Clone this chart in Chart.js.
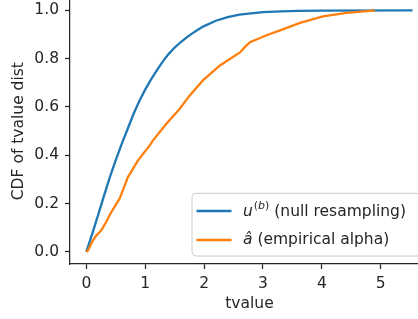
<!DOCTYPE html>
<html>
<head>
<meta charset="utf-8">
<script src="https://cdn.jsdelivr.net/npm/chart.js@4/dist/chart.umd.min.js"></script>
<style>
  html, body { margin: 0; padding: 0; background: #fff; overflow: hidden; width: 418px; height: 319px; }
  #wrap { position: absolute; left: 0; top: -17px; }
</style>
</head>
<body>
<div id="wrap"><canvas id="c" width="432" height="336"></canvas></div>
<script>
// ---- data ----
const nullX = [0, 0.1, 0.2, 0.3, 0.4, 0.5, 0.6, 0.7, 0.8, 0.9, 1.0, 1.1, 1.2, 1.3, 1.4, 1.5, 1.6, 1.7, 1.8, 1.9, 2.0, 2.2, 2.4, 2.6, 2.8, 3.0, 3.3, 3.6, 4.0, 5.54];
const nullY = [0, 0.075, 0.152, 0.232, 0.31, 0.38, 0.446, 0.508, 0.57, 0.625, 0.672, 0.714, 0.753, 0.789, 0.82, 0.846, 0.868, 0.887, 0.905, 0.921, 0.935, 0.957, 0.972, 0.982, 0.988, 0.993, 0.996, 0.998, 0.999, 1.0];
const empX = [0, 0.03, 0.113, 0.17, 0.255, 0.34, 0.425, 0.566, 0.707, 0.878, 1.077, 1.133, 1.36, 1.587, 1.757, 1.98, 2.27, 2.61, 2.7, 2.78, 3.06, 3.29, 3.63, 4.02, 4.42, 4.90];
const empY = [0, 0.007, 0.048, 0.068, 0.090, 0.125, 0.165, 0.221, 0.310, 0.379, 0.441, 0.462, 0.531, 0.593, 0.648, 0.710, 0.772, 0.826, 0.850, 0.868, 0.897, 0.917, 0.948, 0.975, 0.990, 1.0];
const xTicks = [0, 1, 2, 3, 4, 5];
const yTicks = [0.0, 0.2, 0.4, 0.6, 0.8, 1.0];
const seriesLabels = ['(null resampling)', '(empirical alpha)'];
const xTitle = 'tvalue';
const yTitle = 'CDF of tvalue dist';

const toPts = (xs, ys) => xs.map((x, i) => ({ x: x, y: ys[i] }));
const FONT = 'DejaVu Sans';
const INK = '#262626';

const legendPlugin = {
  id: 'mplLegend',
  afterDraw(chart) {
    const ctx = chart.ctx, ca = chart.chartArea;
    const right = ca.right - 8, bottom = ca.bottom - 8;
    const left = ca.right - 237, top = bottom - 62.7;
    ctx.save();
    const r = 4;
    ctx.beginPath();
    ctx.moveTo(left + r, top);
    ctx.lineTo(right - r, top);
    ctx.quadraticCurveTo(right, top, right, top + r);
    ctx.lineTo(right, bottom - r);
    ctx.quadraticCurveTo(right, bottom, right - r, bottom);
    ctx.lineTo(left + r, bottom);
    ctx.quadraticCurveTo(left, bottom, left, bottom - r);
    ctx.lineTo(left, top + r);
    ctx.quadraticCurveTo(left, top, left + r, top);
    ctx.closePath();
    ctx.fillStyle = 'rgba(255,255,255,0.8)';
    ctx.fill();
    ctx.strokeStyle = '#cccccc';
    ctx.lineWidth = 1;
    ctx.stroke();
    const rows = [top + 17.7, top + 46.7];
    const ds = chart.data.datasets;
    rows.forEach((y, i) => {
      ctx.strokeStyle = ds[i].borderColor;
      ctx.lineWidth = 2.3;
      ctx.beginPath();
      ctx.moveTo(left + 4.5, y);
      ctx.lineTo(left + 39.5, y);
      ctx.stroke();
    });
    ctx.fillStyle = INK;
    ctx.textBaseline = 'middle';
    ctx.textAlign = 'left';
    let x = left + 51;
    ctx.font = 'italic 15.5px "' + FONT + '"';
    ctx.fillText('u', x, rows[0] + 1);
    x += ctx.measureText('u').width + 1;
    ctx.font = '11px "' + FONT + '"';
    ctx.fillText('(', x, rows[0] - 5);
    x += ctx.measureText('(').width;
    ctx.font = 'italic 11px "' + FONT + '"';
    ctx.fillText('b', x, rows[0] - 5);
    x += ctx.measureText('b').width;
    ctx.font = '11px "' + FONT + '"';
    ctx.fillText(')', x, rows[0] - 5);
    x += ctx.measureText(')').width;
    ctx.font = '15.5px "' + FONT + '"';
    ctx.fillText(' ' + seriesLabels[0], x, rows[0] + 1);
    x = left + 51;
    ctx.font = 'italic 15.5px "' + FONT + '"';
    ctx.fillText('\u00e2', x, rows[1]);
    x += ctx.measureText('\u00e2').width;
    ctx.font = '15.5px "' + FONT + '"';
    ctx.fillText(' ' + seriesLabels[1], x, rows[1]);
    ctx.restore();
  }
};

new Chart(document.getElementById('c'), {
  type: 'line',
  data: {
    datasets: [
      { label: 'null', data: toPts(nullX, nullY), borderColor: '#1f77b4', borderWidth: 2.3, pointRadius: 0, tension: 0, fill: false, order: 1 },
      { label: 'emp', data: toPts(empX, empY), borderColor: '#ff7f0e', borderWidth: 2.3, pointRadius: 0, tension: 0, fill: false, order: 0 }
    ]
  },
  options: {
    responsive: false,
    animation: false,
    devicePixelRatio: 1,
    layout: { padding: { top: 10, right: 3, bottom: 0, left: 0 } },
    plugins: { legend: { display: false }, tooltip: { enabled: false } },
    scales: {
      x: {
        type: 'linear',
        min: -0.277, max: 5.82,
        afterBuildTicks: (s) => { s.ticks = xTicks.map(v => ({ value: v })); },
        afterFit: (s) => { s.height = 55; },
        ticks: { color: INK, font: { family: FONT, size: 15.5 }, padding: 6, maxRotation: 0, callback: (v) => String(v) },
        grid: { drawOnChartArea: false, drawTicks: true, tickLength: 5, tickWidth: 1.25, tickColor: INK },
        border: { display: true, color: INK, width: 1.25 },
        title: { display: true, text: xTitle, color: INK, font: { family: FONT, size: 15.5 }, padding: { top: 0, bottom: 6 } }
      },
      y: {
        type: 'linear',
        min: -0.05, max: 1.05,
        afterBuildTicks: (s) => { s.ticks = yTicks.map(v => ({ value: v })); },
        afterFit: (s) => { s.width = 70; },
        ticks: { color: INK, font: { family: FONT, size: 15.5 }, padding: 6, callback: (v) => Number(v).toFixed(1) },
        grid: { drawOnChartArea: false, drawTicks: true, tickLength: 5, tickWidth: 1.25, tickColor: INK },
        border: { display: true, color: INK, width: 1.25 },
        title: { display: true, text: yTitle, color: INK, font: { family: FONT, size: 15.5 }, padding: { top: 10, bottom: 0 } }
      }
    }
  },
  plugins: [legendPlugin]
});
</script>
</body>
</html>
